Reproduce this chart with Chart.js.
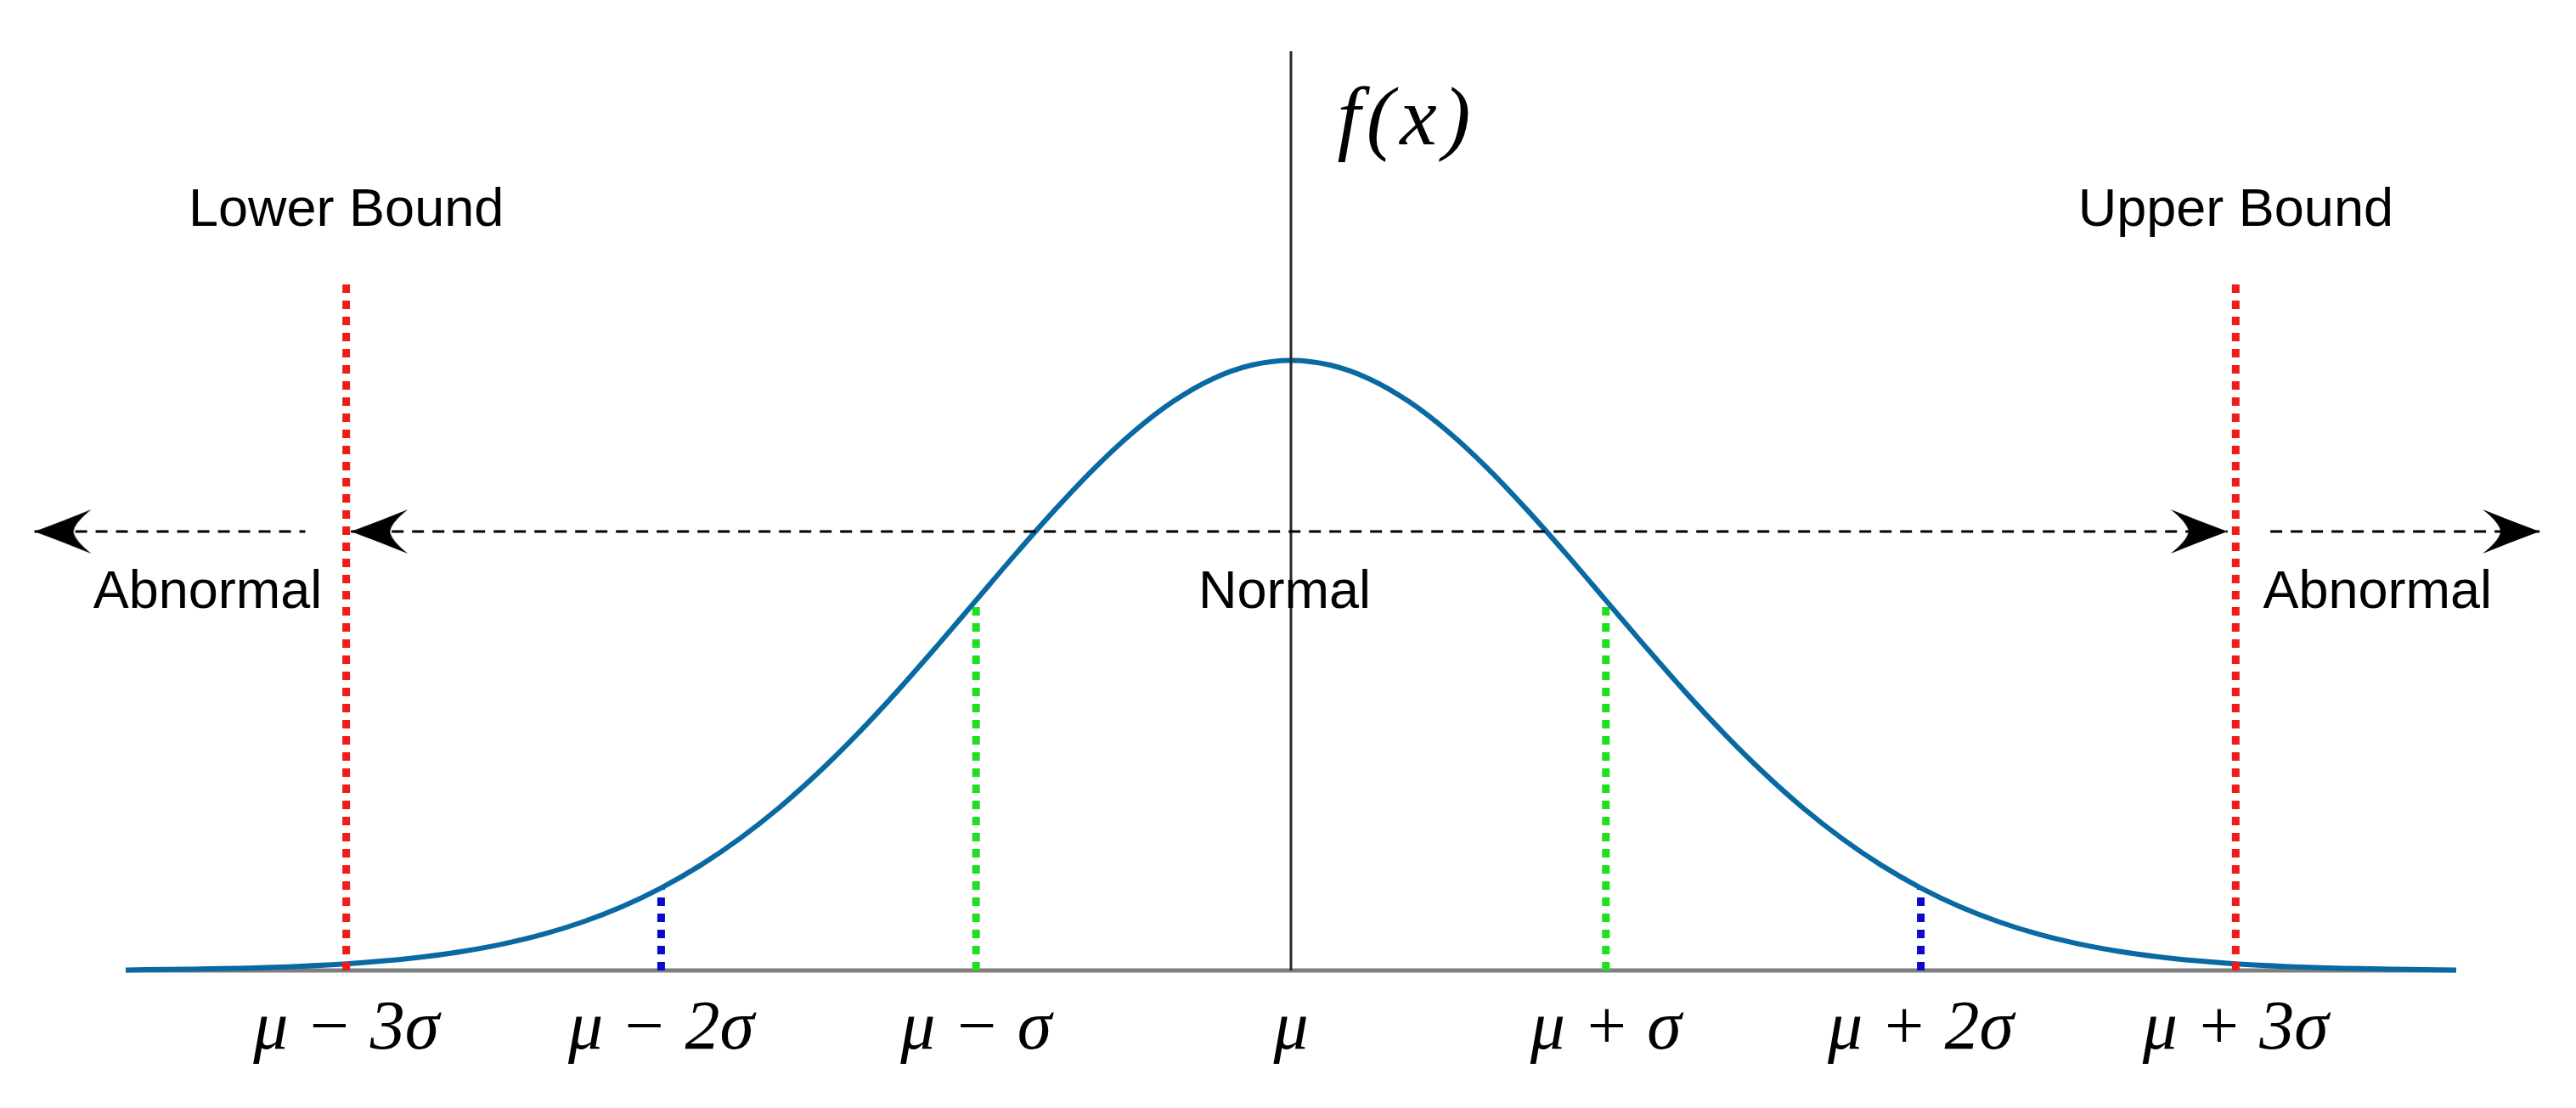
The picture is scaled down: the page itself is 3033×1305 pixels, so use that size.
<!DOCTYPE html>
<html>
<head>
<meta charset="utf-8">
<style>
  html, body { margin: 0; padding: 0; background: #fff; }
  #chart { width: 3033px; height: 1305px; }
</style>
<script src="https://cdn.jsdelivr.net/npm/chart.js@4.4.1/dist/chart.umd.min.js"></script>
</head>
<body>
<div id="chart"><canvas id="normalChart" width="3033" height="1305"></canvas></div>
<script>
const curveX = [-3.7, -3.5, -3.25, -3, -2.875, -2.75, -2.625, -2.5, -2.375, -2.25, -2.125, -2, -1.875, -1.75, -1.625,
  -1.5, -1.375, -1.25, -1.125, -1, -0.875, -0.75, -0.625, -0.5, -0.375, -0.25, -0.125,
  0, 0.125, 0.25, 0.375, 0.5, 0.625, 0.75, 0.875, 1, 1.125, 1.25, 1.375, 1.5,
  1.625, 1.75, 1.875, 2, 2.125, 2.25, 2.375, 2.5, 2.625, 2.75, 2.875, 3, 3.25, 3.5, 3.7];
const curveY = [0.0004, 0.0009, 0.0020, 0.0044, 0.0064, 0.0091, 0.0127, 0.0175, 0.0237, 0.0317, 0.0417, 0.0540, 0.0688, 0.0863, 0.1065,
  0.1295, 0.1550, 0.1826, 0.2119, 0.2420, 0.2721, 0.3011, 0.3282, 0.3521, 0.3719, 0.3867, 0.3958,
  0.3989, 0.3958, 0.3867, 0.3719, 0.3521, 0.3282, 0.3011, 0.2721, 0.2420, 0.2119, 0.1826, 0.1550, 0.1295,
  0.1065, 0.0863, 0.0688, 0.0540, 0.0417, 0.0317, 0.0237, 0.0175, 0.0127, 0.0091, 0.0064, 0.0044, 0.0020, 0.0009, 0.0004];

const tickValues = [-3, -2, -1, 0, 1, 2, 3];
const tickLabels = ['μ − 3σ', 'μ − 2σ', 'μ − σ', 'μ', 'μ + σ', 'μ + 2σ', 'μ + 3σ'];

const baseX = [-3.7, 3.7];
const axisTop = 0.601;
const boundX = [-3, 3];
const boundTop = 0.450;
const oneSigmaX = [-1, 1];
const oneSigmaTop = 0.242;
const twoSigmaX = [-2, 2];
const twoSigmaTop = 0.054;

const arrowY = 0.287;
const arrowLeft = [-3.99, -3.13];
const arrowMid = [-2.985, 2.974];
const arrowRight = [3.11, 3.965];

const textLabels = ['Lower Bound', 'Upper Bound', 'Abnormal', 'Normal', 'Abnormal'];
const textX = [-3, 3, -3.44, -0.02, 3.45];
const textY = [0.487, 0.487, 0.237, 0.237, 0.237];
const fxLabel = 'f(x)';
const fxX = 0.368;
const fxY = 0.540;

// concave arrowhead, tip sits at the canvas centre so the point lands on the tip
function makeArrowHead() {
  const c = document.createElement('canvas');
  c.width = 150;
  c.height = 60;
  const g = c.getContext('2d');
  g.fillStyle = '#000';
  g.beginPath();
  g.moveTo(75, 30);
  g.quadraticCurveTo(110, 17, 142, 4);
  g.quadraticCurveTo(122, 20, 121, 30);
  g.quadraticCurveTo(122, 40, 142, 56);
  g.quadraticCurveTo(110, 43, 75, 30);
  g.closePath();
  g.fill();
  return c;
}
const head = makeArrowHead();

function vline(xv, top, color, width, dash, order) {
  return {
    data: [{ x: xv, y: 0 }, { x: xv, y: top }],
    borderColor: color,
    borderWidth: width,
    borderDash: dash,
    borderCapStyle: 'butt',
    pointRadius: 0,
    order: order
  };
}

function arrow(xs, heads, rotations) {
  return {
    data: xs.map(v => ({ x: v, y: arrowY })),
    borderColor: '#000',
    borderWidth: 3,
    borderDash: [14, 10],
    pointStyle: head,
    pointRadius: heads,
    pointRotation: rotations,
    order: 0
  };
}

const annotationText = {
  id: 'annotationText',
  afterDatasetsDraw(chart) {
    const { ctx, scales: { x, y } } = chart;
    ctx.save();
    ctx.fillStyle = '#000';
    ctx.textAlign = 'center';
    ctx.textBaseline = 'alphabetic';
    ctx.font = '63px "Liberation Sans", Arial, sans-serif';
    textLabels.forEach((t, i) => {
      ctx.fillText(t, x.getPixelForValue(textX[i]), y.getPixelForValue(textY[i]));
    });
    ctx.font = 'italic 98px "Liberation Serif", serif';
    ctx.letterSpacing = '7px';
    ctx.fillText(fxLabel, x.getPixelForValue(fxX), y.getPixelForValue(fxY));
    ctx.restore();
  }
};

const datasets = [
  arrow(arrowLeft, [1, 0], [0, 0]),
  arrow(arrowMid, [1, 1], [0, 180]),
  arrow(arrowRight, [0, 1], [0, 180]),
  ...boundX.map(v => vline(v, boundTop, '#ee1c1c', 9, [10, 9], 1)),
  vline(0, axisTop, '#262626', 3, [], 2),
  {
    data: curveX.map((v, i) => ({ x: v, y: curveY[i] })),
    borderColor: '#0969a2',
    borderWidth: 6,
    pointRadius: 0,
    cubicInterpolationMode: 'monotone',
    order: 3
  },
  ...oneSigmaX.map(v => vline(v, oneSigmaTop, '#1ee01e', 9, [10, 9], 4)),
  ...twoSigmaX.map(v => vline(v, twoSigmaTop, '#0a0ac8', 9, [10, 9], 4)),
  {
    data: baseX.map(v => ({ x: v, y: 0 })),
    borderColor: '#7f7f7f',
    borderWidth: 5,
    pointRadius: 0,
    order: 5
  }
];

new Chart(document.getElementById('normalChart'), {
  type: 'line',
  data: { datasets },
  options: {
    responsive: false,
    animation: false,
    devicePixelRatio: 1,
    layout: { padding: 0 },
    plugins: { legend: { display: false }, tooltip: { enabled: false } },
    scales: {
      x: {
        type: 'linear',
        min: -4.0805,
        max: 4.0617,
        border: { display: false },
        grid: { display: false, drawTicks: false },
        afterBuildTicks: s => { s.ticks = tickValues.map(v => ({ value: v })); },
        afterFit: s => { s.height = 145; },
        ticks: {
          padding: 4,
          maxRotation: 0,
          autoSkip: false,
          color: '#000',
          font: { family: '"Liberation Serif", serif', style: 'italic', size: 82 },
          callback: v => tickLabels[tickValues.indexOf(v)]
        }
      },
      y: {
        display: false,
        min: -0.00938,
        max: 0.63062
      }
    }
  },
  plugins: [annotationText]
});
</script>
</body>
</html>
